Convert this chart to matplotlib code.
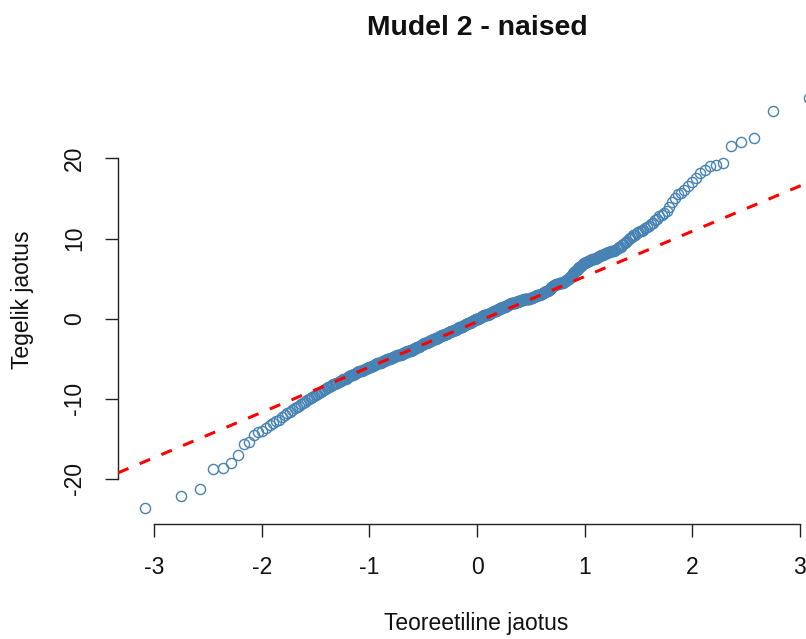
import matplotlib
matplotlib.use("Agg")
import matplotlib.pyplot as plt
from statistics import NormalDist

# ---- data ----
title = "Mudel 2 - naised"
x_label = "Teoreetiline jaotus"
y_label = "Tegelik jaotus"
x_ticks = [-3, -2, -1, 0, 1, 2, 3]
y_ticks = [-20, -10, 0, 10, 20]

# sorted sample residuals (n = 500)
sample = [
    -23.6, -22.2, -21.3, -18.8, -18.7, -18.0, -17.0, -15.7, -15.4, -14.5,
    -14.2, -14.0, -13.6, -13.3, -13.0, -12.8, -12.6, -12.3, -12.0, -11.8,
    -11.6, -11.4, -11.2, -11.0, -10.9, -10.7, -10.5, -10.4, -10.2, -10.0,
    -9.9, -9.8, -9.6, -9.5, -9.4, -9.3, -9.2, -9.0, -8.9, -8.8,
    -8.7, -8.6, -8.5, -8.4, -8.3, -8.2, -8.2, -8.1, -8.0, -7.9,
    -7.8, -7.8, -7.7, -7.6, -7.5, -7.5, -7.4, -7.3, -7.2, -7.2,
    -7.1, -7.0, -7.0, -6.9, -6.9, -6.8, -6.7, -6.7, -6.6, -6.6,
    -6.5, -6.5, -6.4, -6.4, -6.3, -6.3, -6.2, -6.2, -6.1, -6.1,
    -6.0, -6.0, -5.9, -5.9, -5.8, -5.8, -5.7, -5.7, -5.6, -5.6,
    -5.5, -5.5, -5.5, -5.4, -5.4, -5.3, -5.3, -5.3, -5.2, -5.2,
    -5.1, -5.1, -5.0, -5.0, -5.0, -4.9, -4.9, -4.9, -4.8, -4.8,
    -4.8, -4.7, -4.7, -4.7, -4.6, -4.6, -4.6, -4.5, -4.5, -4.5,
    -4.4, -4.4, -4.4, -4.3, -4.3, -4.3, -4.2, -4.2, -4.2, -4.1,
    -4.1, -4.1, -4.0, -4.0, -4.0, -3.9, -3.9, -3.9, -3.8, -3.8,
    -3.7, -3.7, -3.7, -3.6, -3.6, -3.5, -3.5, -3.5, -3.4, -3.4,
    -3.3, -3.3, -3.3, -3.2, -3.2, -3.1, -3.1, -3.1, -3.0, -3.0,
    -3.0, -2.9, -2.9, -2.9, -2.8, -2.8, -2.8, -2.7, -2.7, -2.7,
    -2.6, -2.6, -2.6, -2.5, -2.5, -2.5, -2.4, -2.4, -2.4, -2.3,
    -2.3, -2.3, -2.2, -2.2, -2.2, -2.1, -2.1, -2.1, -2.0, -2.0,
    -2.0, -1.9, -1.9, -1.9, -1.9, -1.8, -1.8, -1.8, -1.7, -1.7,
    -1.7, -1.6, -1.6, -1.6, -1.5, -1.5, -1.5, -1.4, -1.4, -1.4,
    -1.4, -1.3, -1.3, -1.3, -1.2, -1.2, -1.2, -1.1, -1.1, -1.1,
    -1.0, -1.0, -1.0, -0.9, -0.9, -0.9, -0.8, -0.8, -0.8, -0.7,
    -0.7, -0.7, -0.6, -0.6, -0.6, -0.5, -0.5, -0.5, -0.4, -0.4,
    -0.4, -0.3, -0.3, -0.3, -0.2, -0.2, -0.2, -0.1, -0.1, -0.1,
    0.0, 0.0, 0.0, 0.1, 0.1, 0.1, 0.2, 0.2, 0.2, 0.3,
    0.3, 0.3, 0.4, 0.4, 0.4, 0.4, 0.5, 0.5, 0.5, 0.5,
    0.6, 0.6, 0.6, 0.6, 0.7, 0.7, 0.7, 0.8, 0.8, 0.8,
    0.9, 0.9, 0.9, 1.0, 1.0, 1.0, 1.1, 1.1, 1.1, 1.2,
    1.2, 1.2, 1.3, 1.3, 1.3, 1.3, 1.4, 1.4, 1.4, 1.5,
    1.5, 1.5, 1.6, 1.6, 1.6, 1.7, 1.7, 1.7, 1.8, 1.8,
    1.8, 1.8, 1.9, 1.9, 1.9, 1.9, 2.0, 2.0, 2.0, 2.0,
    2.1, 2.1, 2.1, 2.1, 2.2, 2.2, 2.2, 2.2, 2.2, 2.3,
    2.3, 2.3, 2.3, 2.3, 2.4, 2.4, 2.4, 2.4, 2.4, 2.5,
    2.5, 2.5, 2.5, 2.5, 2.6, 2.6, 2.6, 2.6, 2.6, 2.7,
    2.7, 2.7, 2.8, 2.8, 2.8, 2.9, 2.9, 2.9, 3.0, 3.0,
    3.0, 3.1, 3.1, 3.1, 3.2, 3.2, 3.3, 3.3, 3.3, 3.4,
    3.4, 3.5, 3.5, 3.6, 3.6, 3.7, 3.8, 3.9, 4.0, 4.1,
    4.1, 4.2, 4.2, 4.2, 4.3, 4.3, 4.3, 4.3, 4.4, 4.4,
    4.4, 4.5, 4.5, 4.5, 4.6, 4.6, 4.7, 4.7, 4.8, 4.8,
    4.9, 5.0, 5.1, 5.2, 5.3, 5.5, 5.6, 5.7, 5.8, 5.9,
    6.0, 6.1, 6.2, 6.3, 6.4, 6.5, 6.6, 6.7, 6.8, 6.9,
    7.0, 7.0, 7.1, 7.1, 7.2, 7.2, 7.3, 7.3, 7.4, 7.4,
    7.5, 7.5, 7.6, 7.6, 7.7, 7.8, 7.8, 7.9, 8.0, 8.0,
    8.1, 8.1, 8.2, 8.2, 8.3, 8.3, 8.4, 8.4, 8.5, 8.5,
    8.6, 8.7, 8.8, 8.9, 9.0, 9.2, 9.3, 9.5, 9.6, 9.7,
    9.9, 10.1, 10.2, 10.4, 10.5, 10.7, 10.8, 10.9, 11.0, 11.1,
    11.3, 11.4, 11.6, 11.8, 12.0, 12.3, 12.5, 12.8, 13.0, 13.2,
    13.4, 13.9, 14.6, 15.0, 15.5, 15.7, 16.1, 16.5, 17.0, 17.6,
    18.2, 18.5, 19.0, 19.2, 19.4, 21.6, 22.0, 22.5, 25.9, 27.5,
]

# reference (qq) line
qq_intercept = -0.4
qq_slope = 5.65

# ---- theoretical quantiles (R's ppoints) ----
n = len(sample)
a = 3 / 8 if n <= 10 else 0.5
nd = NormalDist()
theoretical = [nd.inv_cdf((i + 1 - a) / (n + 1 - 2 * a)) for i in range(n)]

# ---- figure ----
W, H = 806, 639
fig = plt.figure(figsize=(W / 100, H / 100), dpi=100)
plt.rcParams["font.family"] = ["Liberation Sans", "DejaVu Sans"]

left_px, right_px, top_px, bottom_px = 118, 836, 82, 524
ax = fig.add_axes([left_px / W, 1 - bottom_px / H,
                   (right_px - left_px) / W, (bottom_px - top_px) / H])

def r_range(lo, hi):
    d = (hi - lo) * 0.04
    return lo - d, hi + d

ax.set_xlim(*r_range(min(theoretical), max(theoretical)))
ax.set_ylim(*r_range(min(sample), max(sample)))

ax.plot(theoretical, sample, linestyle="none", marker="o", mfc="none",
        mec="#4682B4", ms=7.3, mew=1.0, zorder=2)
ax.axline((0, qq_intercept), slope=qq_slope, color="#FF0000", lw=2.2,
          dashes=(3.7, 4.0), zorder=3)

for s in ["top", "right"]:
    ax.spines[s].set_visible(False)
ax.spines["left"].set_bounds(min(y_ticks), max(y_ticks))
ax.spines["bottom"].set_bounds(min(x_ticks), max(x_ticks))
for s in ["left", "bottom"]:
    ax.spines[s].set_linewidth(1.0)
    ax.spines[s].set_color("#222222")

ax.set_xticks(x_ticks)
ax.set_xticklabels([str(t) for t in x_ticks])
ax.set_yticks(y_ticks)
ax.set_yticklabels([str(t) for t in y_ticks], rotation=90, va="center")
ax.tick_params(direction="out", length=9.4, width=1.0, color="#222222",
               labelsize=16.5, labelcolor="#111111", pad=13.5)

fig.text(477 / W, 1 - 35 / H, title, ha="center", va="baseline",
         fontsize=20.4, fontweight="bold", color="#111111")
fig.text(476 / W, 1 - 630 / H, x_label, ha="center", va="baseline",
         fontsize=16.5, color="#111111")
fig.text(22.5 / W, 1 - 300 / H, y_label, ha="center", va="center",
         rotation=90, fontsize=16.5, color="#111111")

fig.savefig("out.png", dpi=100)
